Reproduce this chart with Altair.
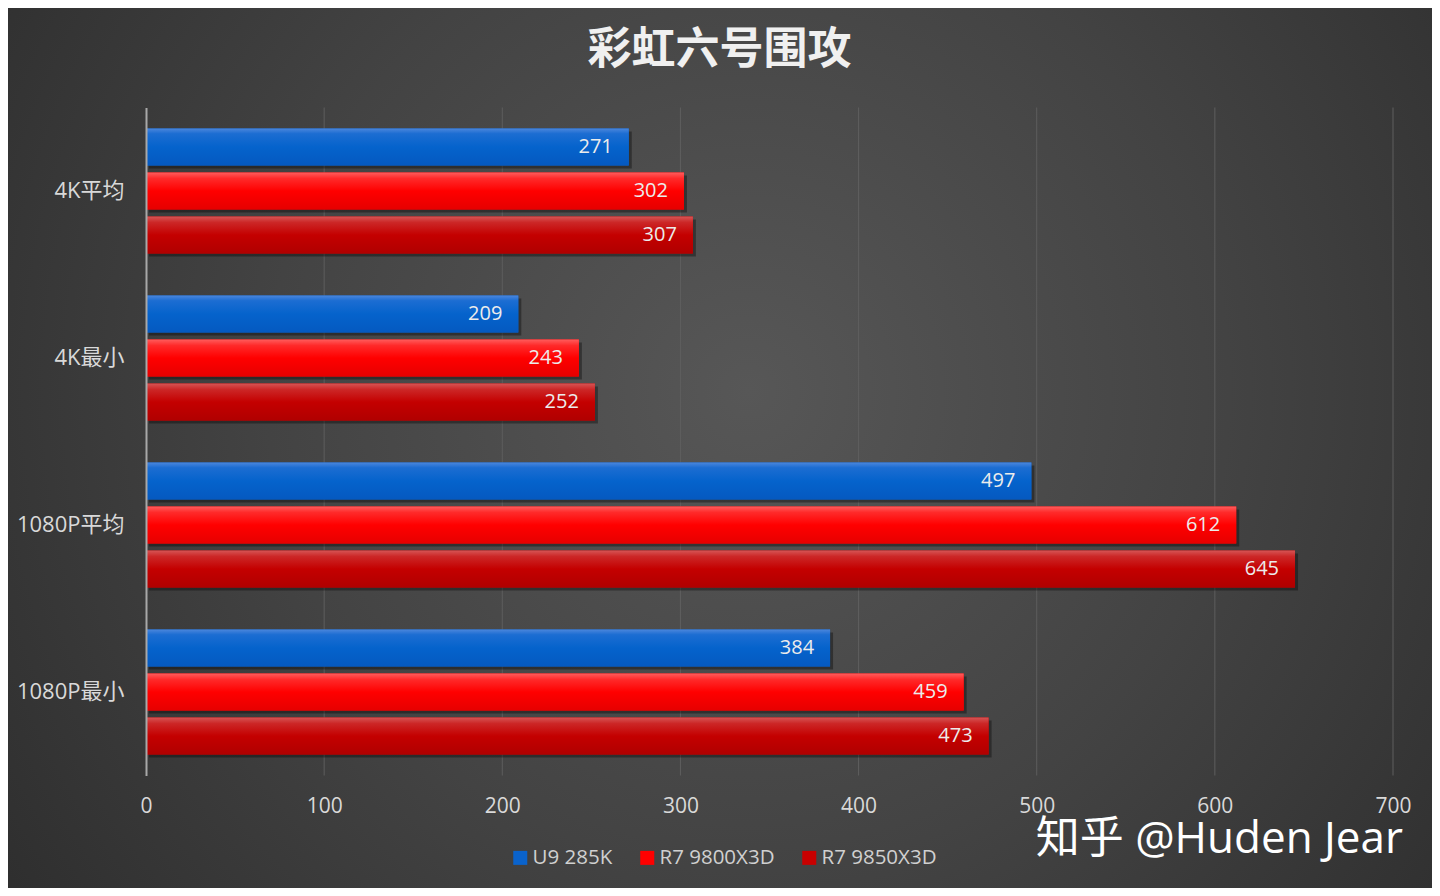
import altair as alt
import pandas as pd

categories = ["4K平均", "4K最小", "1080P平均", "1080P最小"]
series = ["U9 285K", "R7 9800X3D", "R7 9850X3D"]
u9_285k = [271, 209, 497, 384]
r7_9800x3d = [302, 243, 612, 459]
r7_9850x3d = [307, 252, 645, 473]
x_ticks = [0, 100, 200, 300, 400, 500, 600, 700]
grid_ticks = [100, 200, 300, 400, 500, 600, 700]

solid_colors = ["#0a63cc", "#ff0000", "#c80000"]
gradients = [
    [("#4a86dc", 0), ("#1c6dd2", 0.14), ("#0563cc", 0.5), ("#0559c0", 1)],
    [("#ff5c5c", 0), ("#ff2a2a", 0.16), ("#ff0000", 0.5), ("#e60000", 1)],
    [("#d65454", 0), ("#cc2727", 0.16), ("#c40000", 0.5), ("#b00000", 1)],
]

rows = []
for s, vals in zip(series, [u9_285k, r7_9800x3d, r7_9850x3d]):
    for c, v in zip(categories, vals):
        rows.append({"category": c, "series": s, "value": v})
df = pd.DataFrame(rows)

W, H = 1247, 668
PAD = {"left": 138, "top": 99.5, "right": 39, "bottom": 112.5}
FONT = "Open Sans, Noto Sans CJK SC, sans-serif"

x_scale = alt.Scale(domain=[0, 700], nice=False, zero=True)
y_scale = alt.Scale(domain=categories, paddingInner=0.21, paddingOuter=0.105)
yoff_scale = alt.Scale(type="band", domain=series, paddingInner=0.16, paddingOuter=0.08, range=[0, 132])
shadow_scale = alt.Scale(type="band", domain=series, paddingInner=0.16, paddingOuter=0.08, range=[3, 135])

x_enc = alt.X(
    "value:Q", scale=x_scale, title=None,
    axis=alt.Axis(values=x_ticks, grid=False, domain=False, ticks=False,
                  labelFontSize=21, labelColor="#d9d9d9", labelFont=FONT,
                  labelPadding=20, labelFlush=False, zindex=1),
)
y_enc = alt.Y(
    "category:N", scale=y_scale, sort=categories, title=None,
    axis=alt.Axis(domainColor="#a8a8a8", domainWidth=2, ticks=False, grid=False,
                  labelFontSize=22, labelColor="#d9d9d9", labelFont=FONT,
                  labelPadding=22, zindex=1),
)
yoff_enc = alt.YOffset("series:N", scale=yoff_scale, sort=series)

bg = alt.Chart(pd.DataFrame({"a": [0]})).mark_rect(
    color=alt.RadialGradient(
        gradient="radial", x1=0.52, y1=0.46, r1=0, x2=0.52, y2=0.46, r2=0.75,
        stops=[alt.GradientStop(color="#575757", offset=0),
               alt.GradientStop(color="#434343", offset=0.45),
               alt.GradientStop(color="#262626", offset=1)],
    )
).encode(
    x=alt.value(-PAD["left"]), x2=alt.value(W + PAD["right"]),
    y=alt.value(-PAD["top"]), y2=alt.value(H + PAD["bottom"]),
)

grid = alt.Chart(pd.DataFrame({"t": grid_ticks})).mark_rule(
    color="#5e5e5e", strokeWidth=1
).encode(
    x=alt.X("t:Q", scale=x_scale, title=None),
    y=alt.value(0), y2=alt.value(H),
)

shadow = alt.Chart(df).mark_bar(color="#000000", opacity=0.35, xOffset=3).encode(
    x=x_enc, y=y_enc,
    yOffset=alt.YOffset("series:N", scale=shadow_scale, sort=series),
)

base = alt.Chart(df).mark_bar().encode(
    x=x_enc, y=y_enc, yOffset=yoff_enc,
    color=alt.Color(
        "series:N", scale=alt.Scale(domain=series, range=solid_colors), sort=series,
        legend=alt.Legend(
            title=None, orient="none", direction="horizontal",
            legendX=364, legendY=740, symbolType="square", symbolSize=196,
            symbolStrokeWidth=0, labelFontSize=20.5, labelColor="#d0d0d0",
            labelFont=FONT, labelOffset=2, columnPadding=24, padding=0,
        ),
    ),
)

overlays = []
for s, stops in zip(series, gradients):
    overlays.append(
        alt.Chart(df).transform_filter(alt.datum.series == s).mark_bar(
            color=alt.LinearGradient(
                gradient="linear", x1=0, y1=0, x2=0, y2=1,
                stops=[alt.GradientStop(color=c, offset=o) for c, o in stops],
            )
        ).encode(x=x_enc, y=y_enc, yOffset=yoff_enc)
    )

labels = alt.Chart(df).mark_text(
    align="right", baseline="middle", dx=-16, fontSize=20, color="#ececec", font=FONT
).encode(x=x_enc, y=y_enc, yOffset=yoff_enc, text=alt.Text("value:Q"))

watermark = alt.Chart(pd.DataFrame({"w": ["知乎 @Huden Jear"]})).mark_text(
    align="right", baseline="middle", fontSize=44, color="#ffffff", font=FONT
).encode(x=alt.value(1257), y=alt.value(732), text="w:N")

chart = alt.layer(bg, grid, shadow, base, *overlays, labels, watermark).resolve_scale(
    yOffset="independent"
).properties(
    width=W, height=H,
    autosize=alt.AutoSizeParams(type="none"),
    padding=PAD,
    title=alt.TitleParams(
        "彩虹六号围攻", fontSize=44, fontWeight="bold", color="#f0f0f0",
        font="Noto Sans CJK SC", anchor="middle", frame="group", dx=-50, offset=-65,
    ),
).configure(background="#333333").configure_view(stroke=None)

chart.save("out.html", embed_options={"renderer": "svg", "actions": False})
